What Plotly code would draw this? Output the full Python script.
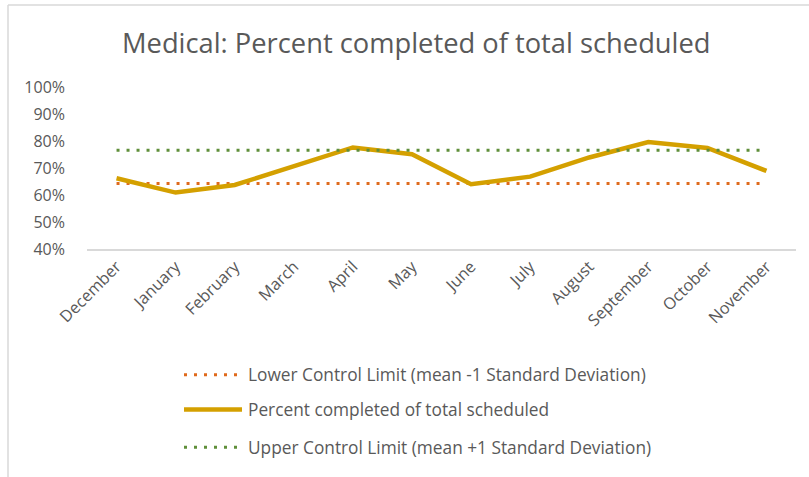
import plotly.graph_objects as go

months = ["December", "January", "February", "March", "April", "May",
          "June", "July", "August", "September", "October", "November"]
percent_completed = [0.662, 0.609, 0.637, 0.707, 0.776, 0.751,
                     0.640, 0.668, 0.739, 0.796, 0.774, 0.689]
lower_limit = [0.643, 0.643, 0.643, 0.643, 0.643, 0.643,
               0.643, 0.643, 0.643, 0.643, 0.643, 0.643]
upper_limit = [0.766, 0.766, 0.766, 0.766, 0.766, 0.766,
               0.766, 0.766, 0.766, 0.766, 0.766, 0.766]
y_ticks = [0.4, 0.5, 0.6, 0.7, 0.8, 0.9, 1.0]
y_tick_text = ["40%", "50%", "60%", "70%", "80%", "90%", "100%"]
series_names = ["Lower Control Limit (mean -1 Standard Deviation)",
                "Percent completed of total scheduled",
                "Upper Control Limit (mean +1 Standard Deviation)"]

ORANGE = "#df6a1c"
GOLD = "#d4a000"
GREEN = "#5f8f3a"
TEXT = "#595959"
GRAY = "#d9d9d9"
FONT = "'Open Sans', sans-serif"

W, H = 809, 477
L, R, T, B = 87, 13, 86.5, 227.5
PW, PH = W - L - R, H - T - B


def px(x):
    return (x - L) / PW


def py(y):
    return (H - B - y) / PH


fig = go.Figure()
fig.add_trace(go.Scatter(x=months, y=lower_limit, mode="lines",
                         name=series_names[0], showlegend=False,
                         line=dict(color=ORANGE, width=3, dash="3px,7px")))
fig.add_trace(go.Scatter(x=months, y=percent_completed, mode="lines",
                         name=series_names[1], showlegend=False,
                         line=dict(color=GOLD, width=4.5)))
fig.add_trace(go.Scatter(x=months, y=upper_limit, mode="lines",
                         name=series_names[2], showlegend=False,
                         line=dict(color=GREEN, width=3, dash="3px,7px")))

shapes = []
annotations = []
# legend drawn manually
legend_rows = [(376, ORANGE, "3px,7px", 3), (411, GOLD, "solid", 4.5), (449, GREEN, "3px,7px", 3)]
for (yy, col, dash, wd), name in zip(legend_rows, series_names):
    shapes.append(dict(type="line", xref="paper", yref="paper",
                       x0=px(184), x1=px(242), y0=py(yy), y1=py(yy),
                       line=dict(color=col, width=wd, dash=dash)))
    annotations.append(dict(text=name, xref="paper", yref="paper",
                            x=px(246), y=py(yy), xanchor="left", yanchor="middle",
                            showarrow=False, font=dict(family=FONT, size=17.3, color=TEXT)))

# chart border (left and top edges visible)
shapes.append(dict(type="line", xref="paper", yref="paper",
                   x0=px(8), x1=px(8), y0=py(4), y1=py(480),
                   line=dict(color=GRAY, width=1.5)))
shapes.append(dict(type="line", xref="paper", yref="paper",
                   x0=px(8), x1=px(812), y0=py(4), y1=py(4),
                   line=dict(color=GRAY, width=1.5)))

annotations.append(dict(text="Medical: Percent completed of total scheduled",
                        xref="paper", yref="paper", x=px(416), y=py(42),
                        xanchor="center", yanchor="middle", showarrow=False,
                        font=dict(family=FONT, size=27.3, color=TEXT)))

fig.update_layout(
    width=W, height=H,
    margin=dict(l=L, r=R, t=T, b=B),
    paper_bgcolor="white", plot_bgcolor="white",
    shapes=shapes, annotations=annotations,
    showlegend=False,
    xaxis=dict(type="category", showgrid=False, zeroline=False,
               showline=True, linecolor=GRAY, linewidth=1.5,
               tickangle=-45, ticks="", tickfont=dict(family=FONT, size=16.3, color=TEXT),
               range=[-0.5, len(months) - 0.5]),
    yaxis=dict(range=[0.4, 1.0], tickvals=y_ticks, ticktext=y_tick_text,
               showgrid=False, zeroline=False, showline=False, ticks="",
               ticklabelstandoff=21,
               tickfont=dict(family=FONT, size=16, color=TEXT)),
)

fig.write_html("out.html", config={"displayModeBar": False},
               post_script="document.body.style.margin='0';")
